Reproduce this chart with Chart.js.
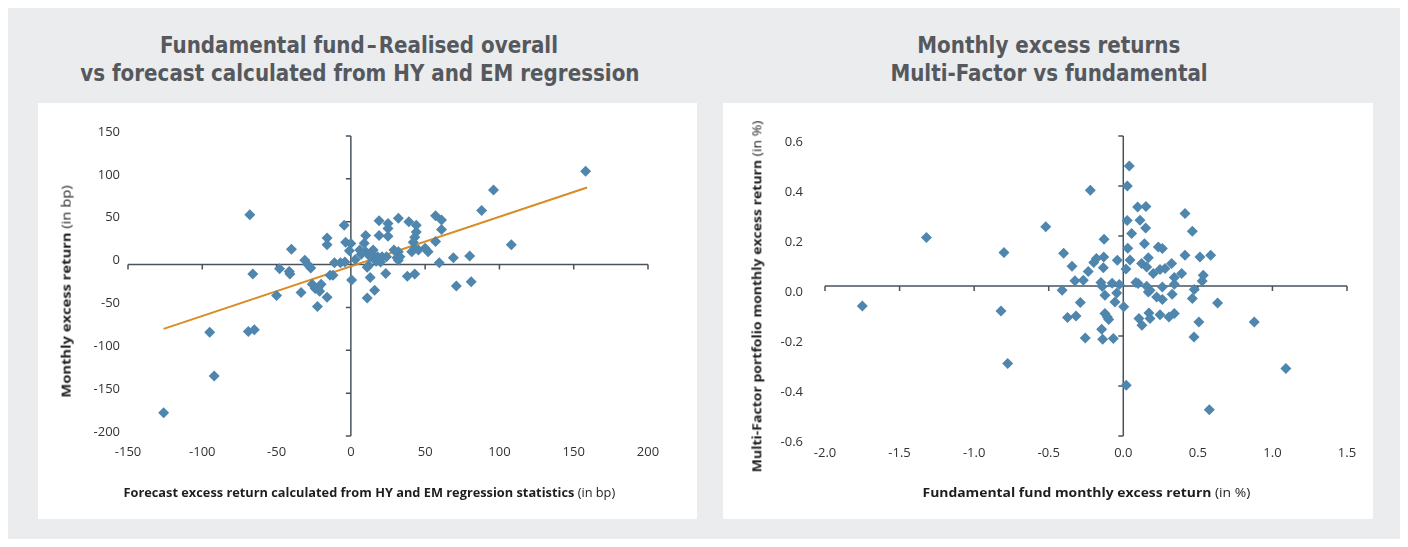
<!DOCTYPE html>
<html>
<head>
<meta charset="utf-8">
<script src="https://cdn.jsdelivr.net/npm/chart.js@4.4.1/dist/chart.umd.min.js"></script>
<style>
body { margin:0; width:1408px; height:547px; background:#fff; position:relative; overflow:hidden; font-family:"Open Sans", sans-serif; }
#bg { position:absolute; left:8px; top:8px; width:1392px; height:531px; background:#ebecee; }
.panel { position:absolute; top:103px; height:416px; background:#fff; }
#p1 { left:38px; width:659px; }
#p2 { left:723px; width:650px; }
.panel canvas { position:absolute; left:0; top:0; }
.title { position:absolute; font-family:"Liberation Sans Narrow", "DejaVu Sans Condensed", sans-serif; font-weight:bold; font-size:23px; line-height:28px; color:#55595e; white-space:nowrap; transform-origin:center center; }
.atitle { position:absolute; font-size:12.5px; color:#1e1e1e; white-space:nowrap; transform-origin:center center; }
.atitle b { font-weight:bold; }
</style>
</head>
<body>
<div id="bg"></div>
<div class="panel" id="p1"><canvas id="c1" width="659" height="416"></canvas></div>
<div class="panel" id="p2"><canvas id="c2" width="650" height="416"></canvas></div>

<div class="title" id="tref" data-cx="359" data-cy="45">Fundamental fund&#8202;–&#8202;Realised overall</div>
<div class="title" data-cx="360" data-cy="73">vs forecast calculated from HY and EM regression</div>
<div class="title" data-cx="1049" data-cy="45">Monthly excess returns</div>
<div class="title" data-cx="1049" data-cy="73">Multi-Factor vs fundamental</div>

<div class="atitle" data-w="212" data-cx="66" data-cy="291" data-rot="1"><b>Monthly excess return</b> (in bp)</div>
<div class="atitle" data-w="492" data-cx="369" data-cy="492"><b>Forecast excess return calculated from HY and EM regression statistics</b> (in bp)</div>
<div class="atitle" data-w="352" data-cx="757" data-cy="296" data-rot="1"><b>Multi-Factor portfolio monthly excess return</b> (in %)</div>
<div class="atitle" data-w="328" data-cx="1086" data-cy="492"><b>Fundamental fund monthly excess return</b> (in %)</div>

<script>
// left chart: forecast (x) vs realised (y), bp
const leftX = [-126, -95, -92, -69, -65, -68, -66, -50, -48, -41.5, -41, -40, -33.5, -31, -29, -27, -26, -24, -22, -20,
  -21, -22.5, -16, -16, -16, -14, -12, -11, -7, -4, -4.5, -3.5, 0, -1, 0.5, 3, 6, 9, 10, 11,
  12, 13, 14, 15, 16, 17, 18, 19, 19, 20, 21, 23.5, 24, 25, 25, 25, 29, 31, 32, 32,
  33, 32, 38, 39, 43, 44, 44, 43, 42, 43, 41, 45.5, 50, 52, 57, 57, 61, 61, 59.5, 69,
  71, 80, 81, 88, 96, 108, 158, 10, 11, 13, 7]
const leftY = [-173, -79, -130, -78, -76, 58, -11, -36, -5, -8, -11, 18, -32.5, 5, 0, -4, -23, -28, -27, -23,
  -31, -49, -38, 31, 23, -12.5, -12.5, 2, 2, 3, 46, 26, 24.5, 16, -18, 6, 17, 25, 34, -39,
  -1, -15, 12, 17, -30, 4, 9, 34, 51, 3, 9, -10.5, 9, 48, 42, 33, 17, 8, 54, 15,
  9, 5, -13.5, 50, -11, 46, 38, 32, 26, 19, 15, 17, 19, 15, 27, 57, 52, 41, 2, 8,
  -25, 10, -20, 63, 87, 23, 109, 15, -3, 9, 12]
const trendX = [-126, 159]
const trendY = [-75, 90]

// right chart: fundamental (x) vs multi-factor (y), %
const rightX = [-1.75, -1.32, -0.80, -0.82, -0.775, -0.52, -0.41, -0.40, -0.344, -0.324, -0.268, -0.288, -0.374, -0.317, -0.255, -0.235, -0.221, -0.198, -0.18, -0.129,
  -0.131, -0.134, -0.15, -0.141, -0.123, -0.123, -0.107, -0.098, -0.145, -0.138, -0.067, -0.075, -0.044, -0.056, -0.027, -0.04, 0.003, 0.02, 0.027, 0.04,
  0.026, 0.056, 0.03, 0.045, 0.018, 0.096, 0.152, 0.112, 0.15, 0.142, 0.235, 0.262, 0.414, 0.463, 0.414, 0.514, 0.586, 0.123, 0.168, 0.157,
  0.201, 0.246, 0.28, 0.324, 0.342, 0.391, 0.342, 0.328, 0.1, 0.085, 0.157, 0.179, 0.168, 0.224, 0.262, 0.262, 0.105, 0.125, 0.172, 0.179,
  0.246, 0.306, 0.342, 0.476, 0.463, 0.536, 0.529, 0.507, 0.474, 0.632, 0.878, 1.09, 0.577]
const rightY = [-0.08, 0.194, 0.134, -0.10, -0.31, 0.237, -0.017, 0.131, 0.079, 0.021, 0.023, -0.066, -0.126, -0.12, -0.208, 0.058, 0.383, 0.094, 0.11, 0.187,
  0.116, 0.073, 0.014, -0.002, -0.037, -0.11, -0.124, -0.134, -0.173, -0.213, -0.21, 0.011, -0.028, -0.064, 0.006, 0.103, -0.083, -0.397, 0.40, 0.48,
  0.262, 0.21, 0.151, 0.104, 0.068, 0.316, 0.318, 0.263, 0.232, 0.169, 0.156, 0.15, 0.29, 0.219, 0.123, 0.116, 0.123, 0.09, 0.113, 0.076,
  0.05, 0.066, 0.07, 0.09, 0.034, 0.05, 0.007, -0.033, 0.01, 0.014, -0.001, -0.017, -0.024, -0.044, -0.054, -0.004, -0.13, -0.157, -0.108, -0.13,
  -0.115, -0.124, -0.11, -0.014, -0.05, 0.043, 0.02, -0.144, -0.204, -0.068, -0.144, -0.33, -0.495]

const MARKER = '#4f86ae'
const TREND = '#d98b25'
const AXIS = '#4a535c'
const TICK_FONT = { family: '"Open Sans", sans-serif', size: 13 }

const pts = (xs, ys) => xs.map((v, i) => ({ x: v, y: ys[i] }))

// axes crossing at zero, with small tick marks, like the original
const crossAxes = {
  id: 'crossAxes',
  beforeDatasetsDraw(chart) {
    const { ctx, scales: { x, y } } = chart
    const x0 = x.getPixelForValue(0)
    const y0 = y.getPixelForValue(0)
    ctx.save()
    ctx.strokeStyle = AXIS
    ctx.lineWidth = 1.5
    ctx.beginPath()
    ctx.moveTo(x.left, y0); ctx.lineTo(x.right, y0)
    ctx.moveTo(x0, y.top); ctx.lineTo(x0, y.bottom)
    x.ticks.forEach(t => {
      const px = x.getPixelForValue(t.value)
      ctx.moveTo(px, y0); ctx.lineTo(px, y0 + 5)
    })
    y.ticks.forEach(t => {
      const py = y.getPixelForValue(t.value)
      ctx.moveTo(x0 - 5, py); ctx.lineTo(x0, py)
    })
    ctx.stroke()
    ctx.restore()
  }
}

const fmt1 = v => Math.abs(v) < 1e-9 ? '0.0' : Number(v).toFixed(1)

const makeScales = (o) => ({
  x: {
    type: 'linear', min: o.xmin, max: o.xmax,
    grid: { display: false, drawTicks: false }, border: { display: false },
    afterFit: s => { s.height = 24 },
    ticks: { stepSize: o.xstep, padding: o.xpad, color: '#333', font: TICK_FONT, callback: o.xfmt }
  },
  y: {
    type: 'linear', min: o.ymin, max: o.ymax,
    grid: { display: false, drawTicks: false }, border: { display: false },
    afterFit: s => { s.width = o.ywidth },
    ticks: { stepSize: o.ystep, padding: o.ypad, labelOffset: o.yoff, color: '#333', font: TICK_FONT, callback: o.yfmt }
  }
})

new Chart(document.getElementById('c1'), {
  type: 'scatter',
  data: {
    datasets: [
      { label: 'Months', data: pts(leftX, leftY), pointStyle: 'rectRot', pointRadius: 5.5, backgroundColor: MARKER, borderColor: MARKER, borderWidth: 0, order: 1 },
      { label: 'Trend', type: 'line', data: pts(trendX, trendY), borderColor: TREND, borderWidth: 2, pointRadius: 0, fill: false, order: 2 }
    ]
  },
  options: {
    responsive: false, animation: false, devicePixelRatio: 1,
    layout: { padding: { left: 0, right: 49, top: 33, bottom: 59 } },
    plugins: { legend: { display: false }, tooltip: { enabled: false } },
    scales: makeScales({ xmin: -150, xmax: 200, xstep: 50, ymin: -200, ymax: 150, ystep: 50,
      xpad: 8, ypad: 8, yoff: -4, ywidth: 90, xfmt: v => v, yfmt: v => v })
  },
  plugins: [crossAxes]
})

new Chart(document.getElementById('c2'), {
  type: 'scatter',
  data: {
    datasets: [
      { label: 'Months', data: pts(rightX, rightY), pointStyle: 'rectRot', pointRadius: 5.5, backgroundColor: MARKER, borderColor: MARKER, borderWidth: 0 }
    ]
  },
  options: {
    responsive: false, animation: false, devicePixelRatio: 1,
    layout: { padding: { left: 0, right: 26, top: 33, bottom: 59 } },
    plugins: { legend: { display: false }, tooltip: { enabled: false } },
    scales: makeScales({ xmin: -2, xmax: 1.5, xstep: 0.5, ymin: -0.6, ymax: 0.6, ystep: 0.2,
      xpad: 9, ypad: 22, yoff: 6, ywidth: 102, xfmt: fmt1, yfmt: fmt1 })
  },
  plugins: [crossAxes]
})

// place text blocks; axis titles squeezed to the width seen in the original,
// chart titles all share one squeeze taken from the first line
const placeText = () => {
  const tref = document.getElementById('tref')
  const kTitle = 398 / tref.offsetWidth
  document.querySelectorAll('.title, .atitle').forEach(el => {
    const k = el.dataset.w ? Number(el.dataset.w) / el.offsetWidth : kTitle
    el.style.left = (Number(el.dataset.cx) - el.offsetWidth / 2) + 'px'
    el.style.top = (Number(el.dataset.cy) - el.offsetHeight / 2) + 'px'
    el.style.transform = (el.dataset.rot ? 'rotate(-90deg) ' : '') + `scaleX(${k})`
  })
}
placeText()
document.fonts.ready.then(placeText)
</script>
</body>
</html>
